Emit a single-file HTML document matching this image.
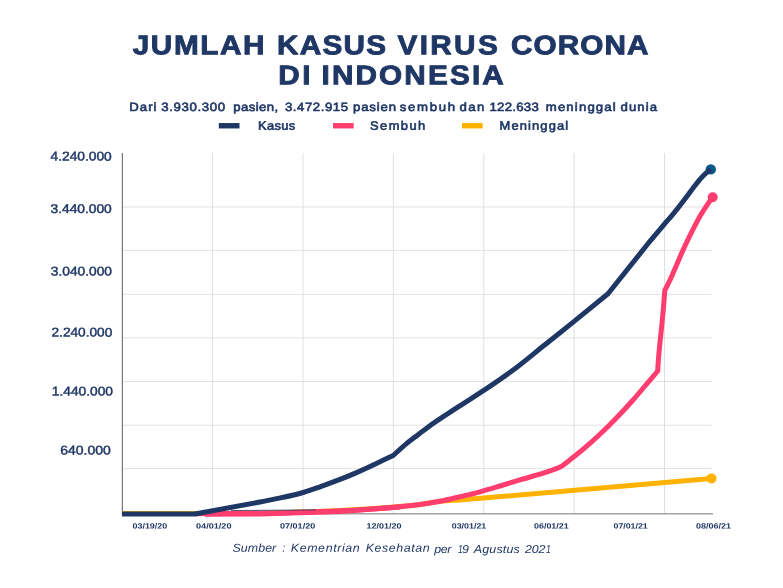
<!DOCTYPE html>
<html><head><meta charset="utf-8">
<style>
html,body{margin:0;padding:0;background:#fff;}
body{width:783px;height:588px;overflow:hidden;}
svg{display:block;will-change:transform;}
text{font-family:"Liberation Sans",sans-serif;fill:#1f3765;}
.t{font-weight:bold;font-size:27px;stroke:#1f3765;stroke-width:0.9px;stroke-miterlimit:2;}
.s{font-size:12px;stroke:#1f3765;stroke-width:0.6px;}
.l{font-size:12.2px;stroke:#1f3765;stroke-width:0.6px;}
.y{font-size:12.7px;stroke:#1f3765;stroke-width:0.45px;}
.x{font-size:7.6px;font-weight:bold;}
.f{font-size:11.5px;font-style:italic;}
</style></head><body>
<svg width="783" height="588" viewBox="0 0 783 588">
<rect width="783" height="588" fill="#fff"/>
<path stroke="#dedede" stroke-width="0.9" fill="none" d="M212.64 153V513M303 153V513M393.4 153V513M483.75 153V513M574.1 153V513M664.5 153V513"/>
<path stroke="#dadada" stroke-width="0.8" fill="none" d="M122.5 206.95H711.8M122.5 250.4H711.8M122.5 294.3H711.8M122.5 337.84H711.8M122.5 381.47H711.8M122.5 425.2H711.8M122.5 468.6H711.8"/>
<path d="M122.4 153V514" stroke="#777" stroke-width="1.2" fill="none"/>
<path d="M122 513.75H713" stroke="#a2a2a2" stroke-width="1.7" fill="none"/>
<g fill="none" stroke-linejoin="round" stroke-linecap="butt">
<path d="M122 513.5L194.9 513.5L260 513.15C286.7 512.3 313.4 512.0 340.0 510.6C360.0 509.6 380.0 508.5 400.0 506.6C406.7 505.9 413.4 505.3 420.0 504.4C426.7 503.6 433.3 502.4 440.0 501.3C446.7 500.8 453.3 500.4 460.0 499.9C467.8 499.3 475.7 498.6 483.5 498.0L711.5 478.5" stroke="#ffb300" stroke-width="5"/>
<path d="M205 514.3L260 514.1L340 511.5L400 507" stroke="#ff3d6e" stroke-width="5"/>
<path d="M194.9 513.7L260 513.3C286.7 512.5 313.4 512.2 340.0 510.8C360.0 509.8 380.0 508.6 400.0 506.7C406.7 506.1 413.4 505.5 420.0 504.6C426.7 503.7 433.4 502.6 440.0 501.3C446.7 500.0 453.3 498.3 460.0 496.7C466.7 495.1 473.4 493.6 480.0 491.8C486.7 490.0 493.3 488.0 500.0 486.0C506.7 484.0 513.3 481.9 520.0 479.9C530.0 476.9 540.2 474.4 550.0 470.9C553.4 469.7 557.0 468.6 560.2 467.0C565.3 464.4 569.6 460.1 574.2 456.5C579.9 452.1 585.4 447.5 590.8 442.7C594.3 439.6 597.6 436.5 601.0 433.3C604.0 430.4 607.0 427.5 610.0 424.5C611.8 422.7 613.6 420.8 615.4 419.0C621.3 413.0 627.0 406.8 632.6 400.5C638.1 394.3 643.3 387.9 648.7 381.6C651.7 378.1 654.7 374.5 657.7 371.0C657.9 367.3 658.1 363.7 658.4 360.0C659.1 350.0 660.3 340.0 661.3 330.0C661.9 323.6 662.6 317.2 663.2 310.8C663.7 305.3 664.1 299.7 664.5 294.2C664.6 292.9 664.7 291.7 664.8 290.4C666.5 287.0 668.3 283.6 669.9 280.2C671.5 276.8 672.9 273.4 674.4 270.0C677.3 263.5 679.9 256.9 682.9 250.4C685.2 245.4 687.5 240.4 690.0 235.4C693.4 228.5 696.8 221.6 700.7 215.0C702.5 212.1 704.3 209.1 706.2 206.3C708.3 203.2 710.5 200.3 712.7 197.3" stroke="#ff3d6e" stroke-width="5"/>
<path d="M231 510.55L316 509.9" stroke="#1f3765" stroke-width="0.8"/>
<circle cx="710.8" cy="169.4" r="5.2" fill="#075886" stroke="none"/>
<path d="M122 514.0L194.9 514.0L260 502.0C266.8 500.6 273.6 499.4 280.4 497.9C288.0 496.3 295.6 494.7 303.1 492.5C309.2 490.7 315.3 488.4 321.3 486.3C327.6 484.1 333.8 481.8 340.0 479.4C345.2 477.4 350.3 475.3 355.4 473.1C362.3 470.1 369.1 466.9 375.9 463.7C381.7 461.0 387.4 458.2 393.2 455.5C397.6 451.5 401.9 447.4 406.5 443.6C409.3 441.3 412.2 439.2 415.0 437.0C419.6 433.5 424.2 429.9 428.9 426.5C438.3 419.7 448.1 413.6 457.8 407.2C466.4 401.5 475.2 396.1 483.8 390.4C494.5 383.2 505.3 375.9 515.6 368.2C525.5 360.8 534.9 352.7 544.6 345.0C554.2 337.3 563.9 329.6 573.5 321.9C585.0 312.6 596.5 303.2 608.0 293.8L650.7 240.3C655.5 234.7 660.2 229.0 665.0 223.4C667.3 220.7 669.7 218.1 672.0 215.4C676.6 209.9 681.0 204.2 685.3 198.5C687.7 195.3 690.0 192.1 692.4 188.9C695.1 185.4 697.7 181.9 700.6 178.6C702.2 176.8 703.9 174.9 705.7 173.3C707.3 171.9 709.1 170.7 710.8 169.4" stroke="#1f3765" stroke-width="5"/>
</g>
<circle cx="711.5" cy="478.4" r="5" fill="#ffb300"/>
<circle cx="712.7" cy="197.3" r="5" fill="#ff3d6e"/>
<rect x="218.8" y="123.05" width="20.7" height="5.4" fill="#1f3765"/>
<rect x="333" y="123.05" width="20.7" height="5.4" fill="#ff3d6e"/>
<rect x="462" y="123.05" width="20.7" height="5.4" fill="#ffb300"/>
<text class="t" transform="translate(132.75 54.2) rotate(0.03) scale(1.1 1)" textLength="119.77" lengthAdjust="spacing">JUMLAH</text>
<text class="t" transform="translate(277.00 54.2) rotate(0.03) scale(1.1 1)" textLength="99.09" lengthAdjust="spacing">KASUS</text>
<text class="t" transform="translate(397.50 54.2) rotate(0.03) scale(1.1 1)" textLength="91.14" lengthAdjust="spacing">VIRUS</text>
<text class="t" transform="translate(511.00 54.2) rotate(0.03) scale(1.1 1)" textLength="125.00" lengthAdjust="spacing">CORONA</text>
<text class="t" transform="translate(278.25 84.2) rotate(0.03) scale(1.1 1)" textLength="29.32" lengthAdjust="spacing">DI</text>
<text class="t" transform="translate(321.50 84.2) rotate(0.03) scale(1.1 1)" textLength="165.68" lengthAdjust="spacing">INDONESIA</text>
<text class="s" transform="translate(129.25 110.9) rotate(0.03) scale(1.1 1)" textLength="24.77" lengthAdjust="spacing">Dari</text>
<text class="s" transform="translate(161.25 110.9) rotate(0.03) scale(1.1 1)" textLength="57.95" lengthAdjust="spacing">3.930.300</text>
<text class="s" transform="translate(233.25 110.9) rotate(0.03) scale(1.1 1)" textLength="40.91" lengthAdjust="spacing">pasien,</text>
<text class="s" transform="translate(285.00 110.9) rotate(0.03) scale(1.1 1)" textLength="57.27" lengthAdjust="spacing">3.472.915</text>
<text class="s" transform="translate(353.00 110.9) rotate(0.03) scale(1.1 1)" textLength="39.09" lengthAdjust="spacing">pasien</text>
<text class="s" transform="translate(399.75 110.9) rotate(0.03) scale(1.1 1)" textLength="50.23" lengthAdjust="spacing">sembuh</text>
<text class="s" transform="translate(459.50 110.9) rotate(0.03) scale(1.1 1)" textLength="22.50" lengthAdjust="spacing">dan</text>
<text class="s" transform="translate(489.50 110.9) rotate(0.03) scale(1.1 1)" textLength="44.77" lengthAdjust="spacing">122.633</text>
<text class="s" transform="translate(545.75 110.9) rotate(0.03) scale(1.1 1)" textLength="63.64" lengthAdjust="spacing">meninggal</text>
<text class="s" transform="translate(620.50 110.9) rotate(0.03) scale(1.1 1)" textLength="33.18" lengthAdjust="spacing">dunia</text>
<text class="l" transform="translate(258.00 129.8) rotate(0.03) scale(1.06 1)" textLength="35.14" lengthAdjust="spacing">Kasus</text>
<text class="l" transform="translate(370.00 129.8) rotate(0.03) scale(1.06 1)" textLength="52.12" lengthAdjust="spacing">Sembuh</text>
<text class="l" transform="translate(499.50 129.8) rotate(0.03) scale(1.06 1)" textLength="64.86" lengthAdjust="spacing">Meninggal</text>
<text class="y" transform="translate(50.50 160.6) rotate(0.03) scale(1 1)" textLength="61.25" lengthAdjust="spacingAndGlyphs">4.240.000</text>
<text class="y" transform="translate(50.50 213) rotate(0.03) scale(1 1)" textLength="61.25" lengthAdjust="spacingAndGlyphs">3.440.000</text>
<text class="y" transform="translate(50.75 275.5) rotate(0.03) scale(1 1)" textLength="61.25" lengthAdjust="spacingAndGlyphs">3.040.000</text>
<text class="y" transform="translate(51.50 336.6) rotate(0.03) scale(1 1)" textLength="60.75" lengthAdjust="spacingAndGlyphs">2.240.000</text>
<text class="y" transform="translate(51.75 395.5) rotate(0.03) scale(1 1)" textLength="61.25" lengthAdjust="spacingAndGlyphs">1.440.000</text>
<text class="y" transform="translate(60.25 454.6) rotate(0.03) scale(1 1)" textLength="50.50" lengthAdjust="spacingAndGlyphs">640.000</text>
<text class="x" transform="translate(132.50 528.5) rotate(0.03) scale(1 1)" textLength="34.75" lengthAdjust="spacingAndGlyphs">03/19/20</text>
<text class="x" transform="translate(196.00 528.5) rotate(0.03) scale(1 1)" textLength="35.50" lengthAdjust="spacingAndGlyphs">04/01/20</text>
<text class="x" transform="translate(280.00 528.5) rotate(0.03) scale(1 1)" textLength="35.25" lengthAdjust="spacingAndGlyphs">07/01/20</text>
<text class="x" transform="translate(366.50 528.5) rotate(0.03) scale(1 1)" textLength="35.00" lengthAdjust="spacingAndGlyphs">12/01/20</text>
<text class="x" transform="translate(451.75 528.5) rotate(0.03) scale(1 1)" textLength="34.50" lengthAdjust="spacingAndGlyphs">03/01/21</text>
<text class="x" transform="translate(534.00 528.5) rotate(0.03) scale(1 1)" textLength="34.75" lengthAdjust="spacingAndGlyphs">06/01/21</text>
<text class="x" transform="translate(613.50 528.5) rotate(0.03) scale(1 1)" textLength="34.25" lengthAdjust="spacingAndGlyphs">07/01/21</text>
<text class="x" transform="translate(696.00 528.5) rotate(0.03) scale(1 1)" textLength="35.00" lengthAdjust="spacingAndGlyphs">08/06/21</text>
<text class="f" transform="translate(232.50 551.75) rotate(0.03) scale(1.08 1)" textLength="40.51" lengthAdjust="spacing">Sumber</text>
<text class="f" transform="translate(282.13 551.75) rotate(0.03) scale(1.0 1)">:</text>
<text class="f" transform="translate(290.75 551.75) rotate(0.03) scale(1.08 1)" textLength="63.89" lengthAdjust="spacing">Kementrian</text>
<text class="f" transform="translate(365.75 551.75) rotate(0.03) scale(1.08 1)" textLength="59.26" lengthAdjust="spacing">Kesehatan</text>
<text class="f" transform="translate(434.25 552.95) rotate(0.03) scale(1.08 1)" textLength="15.97" lengthAdjust="spacing">per</text>
<text class="f" transform="translate(457.95 552.95) rotate(0.03) scale(0.75 1)">1</text>
<text class="f" transform="translate(461.95 552.95) rotate(0.03) scale(1.08 1)">9</text>
<text class="f" transform="translate(473.75 552.95) rotate(0.03) scale(1.08 1)" textLength="42.59" lengthAdjust="spacing">Agustus</text>
<text class="f" transform="translate(525.00 552.95) rotate(0.03) scale(1.08 1)" textLength="18.98" lengthAdjust="spacing">202</text>
<text class="f" transform="translate(545.95 552.95) rotate(0.03) scale(0.75 1)">1</text>
</svg>
</body></html>
